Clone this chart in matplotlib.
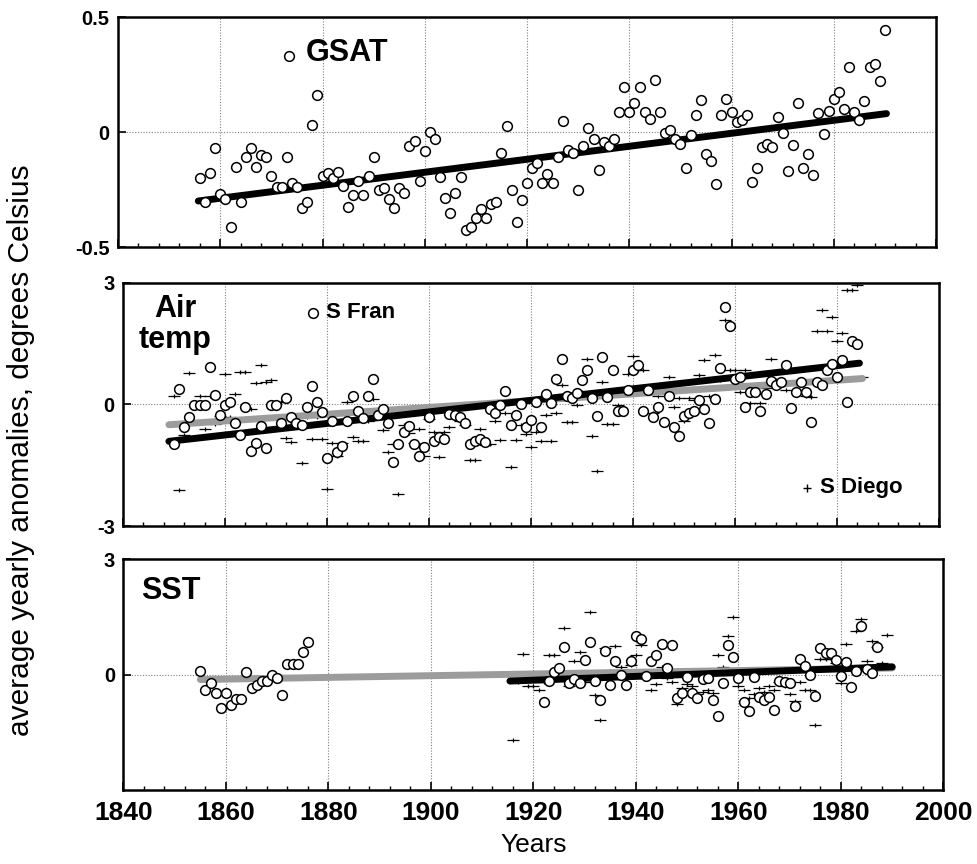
import numpy as np
import matplotlib
matplotlib.use("Agg")
import matplotlib.pyplot as plt
from matplotlib.path import Path
from matplotlib.ticker import MultipleLocator

# ---- data ----
# global surface air temperature anomalies (deg C)
gsat_years = np.arange(1856, 1991)
gsat = [
    -0.201, -0.303, -0.180, -0.068, -0.271, -0.293, -0.413, -0.151, -0.303, -0.110,
    -0.071, -0.151, -0.101, -0.110, -0.190, -0.241, -0.241, -0.107, -0.220, -0.241,
    -0.330, -0.303, 0.030, 0.160, -0.190, -0.180, -0.201, -0.174, -0.233, -0.325,
    -0.274, -0.212, -0.274, -0.190, -0.110, -0.252, -0.242, -0.293, -0.330, -0.242,
    -0.264, -0.061, -0.039, -0.213, -0.081, 0.000, -0.032, -0.194, -0.286, -0.352,
    -0.264, -0.194, -0.425, -0.412, -0.374, -0.335, -0.374, -0.314, -0.303, -0.090,
    0.027, -0.254, -0.393, -0.294, -0.223, -0.157, -0.135, -0.223, -0.184, -0.223,
    -0.107,
    0.049, -0.078, -0.090, -0.252, -0.061, 0.019, -0.032, -0.164, -0.042, -0.061,
    -0.032, 0.088, 0.194, 0.088, 0.125, 0.194, 0.086, 0.055, 0.226, 0.086,
    -0.003, 0.009, -0.032, -0.051, -0.155, -0.014, 0.074, 0.138, -0.096, -0.126,
    -0.226, 0.074, 0.143, 0.086, 0.043, 0.052, 0.074, -0.216, -0.155, -0.064,
    -0.051, -0.064, 0.064, -0.006, -0.168, -0.057, 0.125, -0.158, -0.097, -0.187,
    0.081, -0.009, 0.093, 0.142, 0.174, 0.101, 0.284, 0.086, 0.052, 0.133,
    0.284, 0.294, 0.223, 0.443,
]
gsat_trend_years = [1855.7, 1990.3]
gsat_trend = [-0.30, 0.08]

# air temperature, San Francisco
air_sf_years = np.arange(1850, 1985)
air_sf = [
    -0.97, 0.39, -0.56, -0.31, -0.02, -0.02, -0.02, 0.93, 0.24, -0.25,
    -0.02, 0.07, -0.46, -0.75, -0.07, -1.14, -0.96, -0.52, -1.07, -0.02,
    -0.02, -0.46, 0.17, -0.31, -0.46, -0.50, -0.07, 0.45, 0.06, -0.19,
    -1.31, -0.40, -1.18, -1.02, -0.40, 0.22, -0.15, -0.34, 0.22, 0.64,
    -0.27, -0.11, -0.46, -1.41, -0.97, -0.67, -0.52, -0.97, -1.26, -1.06,
    -0.31, -0.89, -0.81, -0.85, -0.23, -0.27, -0.31, -0.46, -0.97, -0.89,
    -0.85, -0.93, -0.11, -0.21, -0.02, 0.33, -0.50, -0.25, 0.02, -0.56,
    -0.38, 0.06, -0.55, 0.26, 0.04, 0.64, 1.13, 0.22, 0.17, 0.28,
    0.61, 0.86, 0.17, -0.29, 1.17, 0.18, 0.86, -0.17, -0.17, 0.36,
    0.86, 0.97, -0.17, 0.36, -0.31, -0.05, -0.44, 0.22, -0.55, -0.77,
    -0.28, -0.21, -0.17, 0.10, -0.12, -0.46, 0.13, 0.90, 2.40, 1.93,
    0.64, 0.69, -0.05, 0.30, 0.30, -0.16, 0.25, 0.58, 0.47, 0.55,
    0.97, -0.09, 0.30, 0.55, 0.30, -0.43, 0.55, 0.49, 0.84, 1.01,
    0.69, 1.09, 0.06, 1.57, 1.49,
]
air_sf_trend_years = [1849.0, 1984.4]
air_sf_trend = [-0.91, 1.02]

# air temperature, San Diego
air_sd_years = np.arange(1850, 1986)
air_sd = [
    0.22, -2.12, -0.75, 0.78, -0.45, 0.22, -0.60, 0.22, -0.49, -0.28,
    0.75, -0.30, 0.25, 0.79, 0.80, -0.10, 0.52, 0.98, 0.56, 0.60,
    0.07, 0.05, -0.83, -0.93, -0.45, -1.45, -0.30, -0.84, -0.30, -0.84,
    -2.09, -0.96, -1.26, -0.96, 0.07, -0.80, -0.90, -0.90, -0.40, 0.14,
    -0.20, -0.64, -1.17, -0.97, -2.22, -0.50, -0.70, -0.95, -0.60, -1.26,
    -0.35, -0.69, -1.30, -0.69, -0.55, -0.30, -0.40, -0.50, -1.37, -1.37,
    -0.60, -1.00, -0.97, -0.40, -0.88, -0.20, -1.55, -0.88, -0.50, -0.73,
    -1.04, -0.68, -0.90, -0.25, -0.90, -0.22, 0.47, -0.44, -0.44, -0.02,
    0.30, 1.13, -0.79, -1.64, 0.55, -0.48, -0.48, -0.02, 0.30, 0.76,
    1.19, 0.86, 0.86, 0.40, -0.20, 0.20, 0.40, 0.69, -0.07, 0.17,
    -0.42, 0.17, 0.10, 0.74, 1.09, 0.20, 1.21, 0.60, 2.08, 0.84,
    0.86, 0.30, 0.86, 0.03, 0.25, 0.03, 0.40, 1.13, 0.60, 0.45,
    0.35, 0.55, 0.50, 0.30, 0.20, 0.18, 1.81, 2.33, 1.81, 2.15,
    1.57, 1.77, 2.83, 2.83, 2.95, 0.68,
]
air_sd_trend_years = [1849.0, 1985.0]
air_sd_trend = [-0.50, 0.64]

# sea surface temperature, San Francisco (two records)
sst_sf_years_early = np.arange(1855, 1877)
sst_sf_early = [
    0.09, -0.39, -0.21, -0.49, -0.86, -0.47, -0.78, -0.63, -0.63, 0.06,
    -0.36, -0.26, -0.17, -0.17, 0.00, -0.09, -0.54, 0.27, 0.27, 0.27,
    0.58, 0.84,
]
sst_sf_years_late = np.arange(1922, 1988)
sst_sf_late = [
    -0.72, -0.17, 0.06, 0.17, 0.71, -0.21, -0.11, -0.23, 0.37, 0.84,
    -0.17, -0.65, 0.60, -0.27, 0.35, 0.00, -0.27, 0.35, 1.01, 0.91,
    -0.03, 0.35, 0.52, 0.78, 0.16, 0.76, -0.60, -0.49, -0.07, -0.47,
    -0.60, -0.11, -0.09, -0.67, -1.07, -0.23, 0.76, 0.45, -0.09, -0.72,
    -0.95, -0.07, -0.58, -0.67, -0.58, -0.91, -0.17, -0.20, -0.23, -0.82,
    0.41, 0.22, 0.00, -0.56, 0.69, 0.56, 0.56, 0.39, -0.03, 0.32,
    -0.32, 0.09, 1.25, 0.14, 0.04, 0.71,
]
sst_sf_trend_years = [1855.0, 1990.0]
sst_sf_trend = [-0.13, 0.17]

# sea surface temperature, San Diego
sst_sd_years = np.arange(1916, 1990)
sst_sd = [
    -1.70, -0.20, 0.53, -0.30, -0.30, -0.39, -0.20, 0.50, 0.52, -0.10,
    1.22, -0.30, 0.35, 0.58, -0.20, 1.63, -0.53, -1.18, 0.69, 0.10,
    0.75, 0.20, 0.10, 0.25, 0.50, 0.77, -0.10, -0.39, -0.24, 0.20,
    -0.10, -0.20, -0.77, -0.36, -0.24, -0.30, -0.50, -0.45, -0.39, -0.47,
    0.50, 0.20, 0.99, 1.49, -0.31, -0.39, -0.60, -0.50, -0.35, -0.46,
    -0.30, -0.40, -0.20, -0.30, -0.50, -0.70, -0.20, -0.39, -0.39, -1.32,
    0.41, 0.40, 0.40, 0.30, -0.23, 0.78, 0.20, 1.12, 1.43, 0.36,
    0.86, 0.71, 0.30, 1.03,
]
sst_sd_trend_years = [1915.4, 1990.0]
sst_sd_trend = [-0.17, 0.20]

# ---- styling ----
SANS = ["Liberation Sans", "DejaVu Sans"]
BOLD = dict(family=SANS, weight="bold")
GRAY = "#9c9c9c"

# plus sign with long horizontal arms, as used for San Diego
DASH_PLUS = Path([(-1.0, 0.0), (1.0, 0.0), (0.0, -0.28), (0.0, 0.28)],
                 [Path.MOVETO, Path.LINETO, Path.MOVETO, Path.LINETO])


def circles(ax, x, y):
    ax.plot(x, y, "o", ms=7, mfc="white", mec="black", mew=1.1,
            ls="none", zorder=5)


def pluses(ax, x, y):
    ax.plot(x, y, marker=DASH_PLUS, ms=9, mec="black", mfc="none",
            mew=0.9, ls="none", zorder=3)


def trend(ax, x, y, color):
    z = 4 if color == "black" else 3.5
    ax.plot(x, y, color=color, lw=5, solid_capstyle="round", zorder=z)


def style_axis(ax, ylim, yticks, ylabels, xlabels=False):
    ax.set_xlim(1840, 2000)
    ax.set_ylim(*ylim)
    ax.xaxis.set_major_locator(MultipleLocator(20))
    ax.xaxis.set_minor_locator(MultipleLocator(4))
    ax.set_yticks(yticks)
    ax.set_yticklabels(ylabels, fontsize=14.5, **BOLD)
    ax.tick_params(axis="x", which="major", direction="in", length=6,
                   width=1.2, top=False, pad=8)
    ax.tick_params(axis="x", which="minor", direction="in", length=3,
                   width=1.0, top=False)
    ax.tick_params(axis="y", direction="in", length=6, width=1.2,
                   right=False, pad=6)
    for sp in ax.spines.values():
        sp.set_linewidth(1.8)
    for yr in range(1860, 2000, 20):
        ax.axvline(yr, color="#808080", lw=0.8, ls=(0, (1, 1.5)), zorder=1)
    ax.axhline(0, color="#808080", lw=0.8, ls=(0, (1, 1.5)), zorder=1)
    if xlabels:
        ax.set_xticks(range(1840, 2001, 20))
        ax.set_xticklabels([str(v) for v in range(1840, 2001, 20)],
                           fontsize=19, **BOLD)
    else:
        ax.set_xticklabels([])


fig = plt.figure(figsize=(9.77, 8.64), dpi=100)
ax1 = fig.add_axes([0.1208, 0.7141, 0.8373, 0.2662])
ax2 = fig.add_axes([0.1259, 0.3912, 0.8352, 0.2813])
ax3 = fig.add_axes([0.1264, 0.0856, 0.8393, 0.2674])

# top: GSAT
trend(ax1, gsat_trend_years, gsat_trend, "black")
circles(ax1, gsat_years, gsat)
style_axis(ax1, (-0.5, 0.5), [-0.5, 0, 0.5], ["-0.5", "0", "0.5"])
ax1.plot([0.209], [0.830], "o", ms=7, mfc="white", mec="black", mew=1.1,
         transform=ax1.transAxes)
ax1.text(0.230, 0.845, "GSAT", transform=ax1.transAxes, fontsize=22,
         va="center", ha="left", **BOLD)

# middle: air temperature
pluses(ax2, air_sd_years, air_sd)
trend(ax2, air_sd_trend_years, air_sd_trend, GRAY)
trend(ax2, air_sf_trend_years, air_sf_trend, "black")
circles(ax2, air_sf_years, air_sf)
style_axis(ax2, (-3, 3), [-3, 0, 3], ["-3", "0", "3"])
ax2.text(0.064, 0.955, "Air\ntemp", transform=ax2.transAxes, fontsize=22,
         va="top", ha="center", linespacing=1.05, **BOLD)
ax2.plot([0.2325], [0.878], "o", ms=7, mfc="white", mec="black", mew=1.1,
         transform=ax2.transAxes)
ax2.text(0.249, 0.878, "S Fran", transform=ax2.transAxes, fontsize=16,
         va="center", ha="left", **BOLD)
ax2.plot([0.838], [0.155], "+", ms=6, mec="black", mew=1.0,
         transform=ax2.transAxes)
ax2.text(0.854, 0.160, "S Diego", transform=ax2.transAxes, fontsize=16,
         va="center", ha="left", **BOLD)

# bottom: SST
pluses(ax3, sst_sd_years, sst_sd)
trend(ax3, sst_sf_trend_years, sst_sf_trend, GRAY)
trend(ax3, sst_sd_trend_years, sst_sd_trend, "black")
circles(ax3, sst_sf_years_early, sst_sf_early)
circles(ax3, sst_sf_years_late, sst_sf_late)
style_axis(ax3, (-3, 3), [0, 3], ["0", "3"], xlabels=True)
ax3.text(0.021, 0.925, "SST", transform=ax3.transAxes, fontsize=22,
         va="top", ha="left", **BOLD)

ax3.set_xlabel("Years", fontsize=19, family=SANS, labelpad=6)
fig.text(0.021, 0.479, "average yearly anomalies, degrees Celsius",
         rotation=90, ha="center", va="center", fontsize=21.5, family=SANS)

fig.savefig("out.png", dpi=100)
